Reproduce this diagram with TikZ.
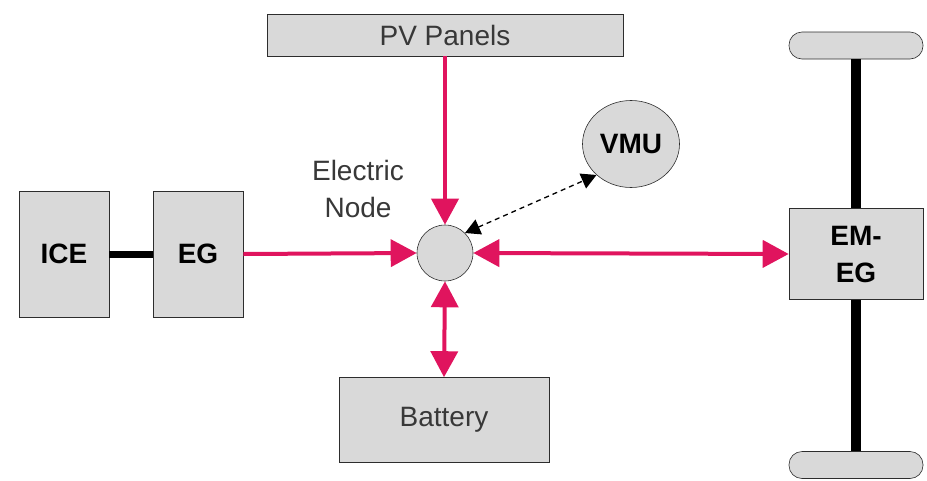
\documentclass[tikz,border=0pt]{standalone}
\usepackage{fontspec}
\setmainfont{Liberation Sans}
\usetikzlibrary{arrows.meta,positioning,shapes.geometric}
\definecolor{powerred}{RGB}{224,20,94}
\definecolor{blockgray}{RGB}{217,217,217}
\definecolor{edgegray}{RGB}{45,45,45}
\tikzset{
    hev diagram/.style = {x=1pt, y=-1pt,
                          >={Triangle[length=26pt, width=27pt]}},
    plain text/.style  = {font=\fontsize{28}{37}\selectfont, text=black!78},
    block/.style       = {draw=edgegray, semithick, fill=blockgray,
                          inner sep=0pt, plain text},
    bold block/.style  = {block, font=\fontsize{28}{37}\selectfont\bfseries,
                          text=black},
    wheel/.style       = {block, rounded corners=13pt,
                          minimum width=134pt, minimum height=27pt},
    power/.style       = {draw=powerred, line width=4pt},
    shaft/.style       = {draw=black, line width=7pt},
    axle/.style        = {draw=black, line width=10pt},
    signal link/.style = {draw=black, line width=1.3pt, dash pattern=on 5pt off 4pt,
                          {Triangle[length=15pt, width=16pt]}-{Triangle[length=15pt, width=16pt]}}
}

\begin{document}
\begin{tikzpicture}[hev diagram]
\useasboundingbox (0,0) rectangle (927,480);

% Engine-generator set on the left.
\node[bold block, minimum width=90pt, minimum height=126pt] (ice) at (64,254) {ICE};
\node[bold block, minimum width=90pt, minimum height=126pt] (eg) at (198,254) {EG};
\draw[shaft] (ice.east) -- (eg.west);

% Electric node with its sources and loads.
\node[block, circle, minimum size=56pt] (enode) at (445,253) {};
\node[plain text, align=center] (enode-label) at (358,189) {Electric\\Node};
\node[block, minimum width=356pt, minimum height=42pt] (pv) at (445,35) {PV Panels};
\node[block, minimum width=210pt, minimum height=85pt] (battery) at (444,420) {Battery};
\node[bold block, ellipse, minimum width=97pt, minimum height=87pt] (vmu) at (631,144) {VMU};

% Electric machine on the driven axle.
\node[bold block, minimum width=134pt, minimum height=91pt, align=center] (emeg) at (856,254) {EM-\\EG};
\foreach \name/\y in {wheel-top/45.5, wheel-bottom/465} {
    \node[wheel] (\name) at (856,\y) {};
}
\draw[axle] (wheel-top.south) -- (emeg.north);
\draw[axle] (emeg.south) -- (wheel-bottom.north);

% Power flows.
\draw[->, power] (eg.east) -- (enode.west);
\draw[->, power] (pv.south) -- (enode.north);
\draw[<->, power] (enode.south) -- (battery.north);
\draw[<->, power] (enode.east) -- (emeg.west);
\draw[signal link] (enode.north east) -- (vmu.south west);

\end{tikzpicture}
\end{document}
